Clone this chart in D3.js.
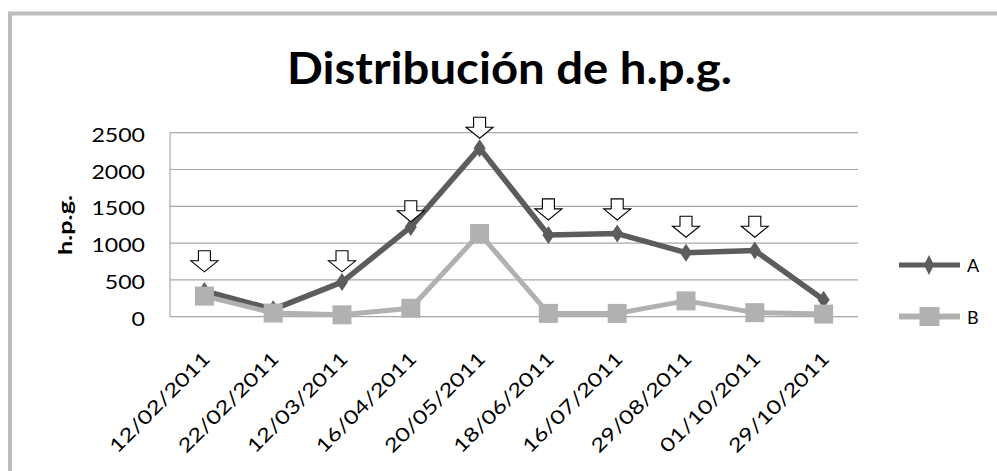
<!DOCTYPE html>
<html>
<head>
<meta charset="utf-8">
<script src="https://cdn.jsdelivr.net/npm/d3@7"></script>
<style>
  html, body { margin: 0; padding: 0; background: #fff; }
  svg { display: block; }
  text { font-family: Lato, "Open Sans", sans-serif; fill: #000; }
</style>
</head>
<body>
<svg id="chart" width="997" height="471"></svg>
<script>
// ---- data ----
const categories = ["12/02/2011","22/02/2011","12/03/2011","16/04/2011","20/05/2011",
                    "18/06/2011","16/07/2011","29/08/2011","01/10/2011","29/10/2011"];
const seriesA = [350, 100, 470, 1220, 2290, 1110, 1130, 870, 900, 230];
const seriesB = [280, 50, 25, 115, 1130, 45, 45, 215, 55, 35];
// arrow annotations: value (h.p.g.) where the down arrow tip points, null = no arrow
const arrowTips = [610, null, 610, 1290, 2425, 1315, 1315, 1080, 1080, null];
const yTicks = [0, 500, 1000, 1500, 2000, 2500];
const seriesNames = ["A", "B"];
const titleText = "Distribución de h.p.g.";
const yLabel = "h.p.g.";

// ---- layout ----
const svg = d3.select("#chart");
const plot = { left: 170, right: 858, top: 132.7, bottom: 316.7 };
const colorA = "#5c5c5c", colorB = "#b1b1b1";

const x = d3.scalePoint().domain(categories).range([plot.left, plot.right]).padding(0.5);
const y = d3.scaleLinear().domain([0, 2500]).range([plot.bottom, plot.top]);

// outer frame
svg.append("path")
  .attr("d", "M10,471 L10,13.5 L997,13.5")
  .attr("fill", "none").attr("stroke", "#bdbdbd").attr("stroke-width", 4);

// title
svg.append("text")
  .attr("x", 509.5).attr("y", 83.5)
  .attr("text-anchor", "middle")
  .attr("font-size", 44).attr("font-weight", "bold")
  .attr("textLength", 445).attr("lengthAdjust", "spacingAndGlyphs")
  .text(titleText);

// gridlines
svg.append("g").selectAll("line").data(yTicks.filter(d => d > 0)).join("line")
  .attr("x1", plot.left).attr("x2", plot.right)
  .attr("y1", d => y(d)).attr("y2", d => y(d))
  .attr("stroke", "#a8a8a8").attr("stroke-width", 1.2);

// axes lines
svg.append("line").attr("x1", plot.left).attr("x2", plot.left)
  .attr("y1", plot.top).attr("y2", plot.bottom)
  .attr("stroke", "#a8a8a8").attr("stroke-width", 1.2);
svg.append("line").attr("x1", plot.left).attr("x2", plot.right)
  .attr("y1", plot.bottom).attr("y2", plot.bottom)
  .attr("stroke", "#a8a8a8").attr("stroke-width", 1.2);

// y axis labels
const yAxis = d3.axisLeft(y).tickValues(yTicks).tickSize(0).tickPadding(0).tickFormat(d3.format("d"));
const gy = svg.append("g").attr("transform", "translate(145,0)").call(yAxis);
gy.select(".domain").remove();
gy.selectAll("text")
  .attr("font-family", "Lato, sans-serif")
  .attr("font-size", 19)
  .attr("fill", "#000")
  .attr("dy", "0.45em")
  .attr("textLength", function() { return this.textContent.length * 13.4; })
  .attr("lengthAdjust", "spacingAndGlyphs");

// y title
svg.append("text")
  .attr("transform", "translate(72,225) rotate(-90)")
  .attr("text-anchor", "middle")
  .attr("font-size", 18).attr("font-weight", "bold")
  .attr("textLength", 60).attr("lengthAdjust", "spacingAndGlyphs")
  .text(yLabel);

// x labels
svg.append("g").selectAll("text").data(categories).join("text")
  .attr("transform", d => `translate(${x(d) + 7},360) rotate(-45)`)
  .attr("text-anchor", "end")
  .attr("font-size", 19)
  .attr("textLength", 133).attr("lengthAdjust", "spacingAndGlyphs")
  .text(d => d);

// lines
const line = d3.line().x((d, i) => x(categories[i])).y(d => y(d));
const diamond = "M0,-9 L6,0 L0,9 L-6,0 Z";

const gA = svg.append("g");
gA.append("path").datum(seriesA).attr("d", line)
  .attr("fill", "none").attr("stroke", colorA).attr("stroke-width", 5.5).attr("stroke-linejoin", "round");
gA.selectAll("path.m").data(seriesA).join("path").attr("class", "m")
  .attr("transform", (d, i) => `translate(${x(categories[i])},${y(d)})`)
  .attr("d", diamond).attr("fill", colorA);

const gB = svg.append("g");
gB.append("path").datum(seriesB).attr("d", line)
  .attr("fill", "none").attr("stroke", colorB).attr("stroke-width", 5).attr("stroke-linejoin", "round");
gB.selectAll("rect").data(seriesB).join("rect")
  .attr("x", (d, i) => x(categories[i]) - 9.5).attr("y", d => y(d) - 9.5)
  .attr("width", 19).attr("height", 19).attr("fill", colorB);

// arrows
const arrowPath = "M-6,-21 L6,-21 L6,-11 L13.5,-11 L0,0 L-13.5,-11 L-6,-11 Z";
svg.append("g").selectAll("path")
  .data(arrowTips.map((v, i) => ({ v, c: categories[i] })).filter(d => d.v !== null))
  .join("path")
  .attr("transform", d => `translate(${x(d.c)},${y(d.v)})`)
  .attr("d", arrowPath)
  .attr("fill", "#fff").attr("stroke", "#000").attr("stroke-width", 1.1);

// legend
const legend = svg.append("g");
const legY = [265, 316.5];
legend.selectAll("line").data(seriesNames).join("line")
  .attr("x1", 899).attr("x2", 960)
  .attr("y1", (d, i) => legY[i]).attr("y2", (d, i) => legY[i])
  .attr("stroke", (d, i) => i === 0 ? colorA : colorB)
  .attr("stroke-width", (d, i) => i === 0 ? 5 : 6);
legend.append("path").attr("transform", `translate(929,${legY[0]})`).attr("d", "M0,-10 L5,0 L0,10 L-5,0 Z").attr("fill", colorA);
legend.append("rect").attr("x", 919.5).attr("y", legY[1] - 9.5).attr("width", 20).attr("height", 19).attr("fill", colorB);
legend.selectAll("text").data(seriesNames).join("text")
  .attr("x", 967).attr("y", (d, i) => legY[i] + 7)
  .attr("font-size", 18)
  .text(d => d);
</script>
</body>
</html>
